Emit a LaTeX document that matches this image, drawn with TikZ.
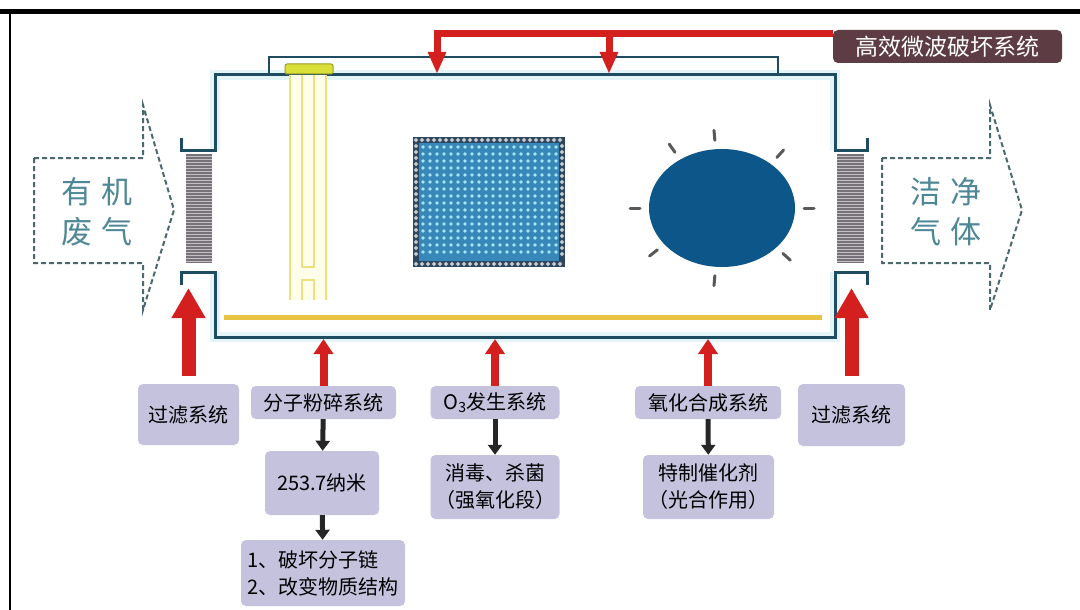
\documentclass[tikz,border=0pt]{standalone}
\usepackage{fontspec}
\setmainfont{Noto Sans CJK SC}
\usetikzlibrary{arrows.meta,calc}

\definecolor{wall}{HTML}{1E4D62}
\definecolor{glow}{HTML}{E4F5F9}
\definecolor{pipered}{HTML}{D3201F}
\definecolor{lav}{HTML}{C5C2DE}
\definecolor{labelbg}{HTML}{5E3C44}
\definecolor{lampy}{HTML}{EEE07A}
\definecolor{capy}{HTML}{D9E03A}
\definecolor{flowtxt}{HTML}{4E8795}
\definecolor{flowln}{HTML}{4D6770}
\definecolor{sunblue}{HTML}{0C5689}
\definecolor{gridbg}{HTML}{3787B8}
\definecolor{griddot}{HTML}{A6E6FA}
\definecolor{gridedge}{HTML}{2B4660}
\definecolor{coil}{HTML}{77727A}
\definecolor{barY}{HTML}{E9C443}

\tikzset{
  sysbox/.style={fill=lav, rounded corners=5pt, inner sep=2pt, align=center, text=black,
    font=\fontsize{20}{27}\selectfont},
  feedL/.style={pipered, line width=14pt, -{Triangle[width=32pt,length=30pt]}},
  feedS/.style={pipered, line width=8pt, -{Triangle[width=19pt,length=15pt]}},
  feedT/.style={pipered, line width=7pt, line join=miter, -{Triangle[width=17pt,length=22pt]}},
  nextstep/.style={black!85, line width=5pt, -{Triangle[width=14pt,length=10pt]}},
  flow/.style={flowln, line width=2pt, dash pattern=on 5pt off 3pt},
  flowtext/.style={flowtxt, font=\fontsize{31}{40}\selectfont, align=center},
  ray/.style={black!65, line width=3pt, line cap=round},
}

\begin{document}
\begin{tikzpicture}[x=1pt,y=-1pt]
\useasboundingbox (0,0) rectangle (1080,610);
\fill[white] (0,0) rectangle (1080,610);

% frame
\draw[line width=5pt] (0,11.5) -- (1080,11.5);
\draw[line width=2pt] (9.5,11.5) -- (9.5,610);

% in / out flow
\draw[flow] (34,158) -- (143,158) -- (143,105) -- (174,210) -- (143,310) -- (143,263) -- (34,263) -- cycle;
\node[flowtext] (inlet) at (97,212) {有\hspace{9pt}机\\废\hspace{9pt}气};
\draw[flow] (882,158) -- (990,158) -- (990,105) -- (1022,210) -- (990,310) -- (990,263) -- (882,263) -- cycle;
\node[flowtext] (outlet) at (946,212) {洁\hspace{9pt}净\\气\hspace{9pt}体};

% chamber
\draw[glow, line width=10pt] (215,150) -- (215,75) -- (835,75) -- (835,150);
\draw[glow, line width=10pt] (215,272) -- (215,337) -- (835,337) -- (835,272);
\draw[wall, line width=3pt] (181,138) -- (181,150) -- (215,150) -- (215,75) -- (835,75)
  -- (835,150) -- (867,150) -- (867,138);
\draw[wall, line width=3pt] (181,285) -- (181,272) -- (215,272) -- (215,337) -- (835,337)
  -- (835,272) -- (867,272) -- (867,285);
\draw[wall, line width=2pt] (269,75) -- (269,57) -- (778,57) -- (778,75);

% filters
\foreach \xa/\xb in {186/212,837/864}{
  \fill[coil] (\xa,154) rectangle (\xb,263);
  \foreach \y in {156,159,...,262}
    \draw[white!55!coil, line width=0.7pt] (\xa,\y) -- (\xb,\y);
}

% lamp
\fill[yellow!8] (290,75) rectangle (326,300);
\draw[lampy, line width=2pt] (290,75) -- (290,300) (326,75) -- (326,300)
  (302,75) -- (302,267) -- (314,267) -- (314,75)
  (302,300) -- (302,280) -- (314,280) -- (314,300);
\draw[capy!70!black, fill=capy, rounded corners=2pt, line width=1pt] (285,64) rectangle (333,74);
\draw[barY, line width=5pt] (224,317) -- (822,317);

% grid panel
\fill[gridedge] (413,137) rectangle (565,267);
\fill[gridbg] (419,143) rectangle (559,261);
\foreach \x in {423,430,...,556}
  \foreach \y in {147,154,...,258}
    \fill[griddot] (\x,\y) circle (1.8pt);
\foreach \x in {416,422,...,562}{
  \draw[gridedge, fill=black!20, line width=0.6pt] (\x,140) circle (2.3pt);
  \draw[gridedge, fill=black!20, line width=0.6pt] (\x,264) circle (2.3pt);
}
\foreach \y in {146,152,...,258}{
  \draw[gridedge, fill=black!20, line width=0.6pt] (416,\y) circle (2.3pt);
  \draw[gridedge, fill=black!20, line width=0.6pt] (562,\y) circle (2.3pt);
}

% catalyst
\coordinate (sun) at (722,208);
\fill[sunblue] (sun) ellipse [x radius=73pt, y radius=59pt];
\foreach \a in {0,48,95,125,180,218,265,318}
  \draw[ray] ($(sun)+(\a:82pt and 68pt)$) -- ($(sun)+(\a:92pt and 78pt)$);

% microwave feed
\node[fill=labelbg, rounded corners=5pt, text=white, minimum width=229pt, minimum height=33pt,
  font=\fontsize{23}{26}\selectfont] (mw) at (947.5,46.5) {高效微波破坏系统};
\coordinate (p1) at (437,34);
\coordinate (p2) at (609,34);
\coordinate (ctop) at (0,74);
\draw[feedT] (mw.west |- p1) -- (p1) -- (p1 |- ctop);
\draw[feedT] (p2) -- (p2 |- ctop);

% systems
\node[sysbox, minimum width=101pt, minimum height=61pt] (filtL) at (188.5,414.5) {过滤系统};
\node[sysbox, minimum width=145pt, minimum height=33pt] (crush) at (323.5,402.5) {分子粉碎系统};
\node[sysbox, minimum width=114pt, minimum height=64pt] (nm) at (322,483) {253.7纳米};
\node[sysbox, minimum width=164pt, minimum height=66pt, align=left] (chain) at (323,573) {1、破坏分子链\\2、改变物质结构};
\node[sysbox, minimum width=129pt, minimum height=33pt] (ozone) at (495,402.5) {O\textsubscript{3}发生系统};
\node[sysbox, minimum width=129pt, minimum height=64pt] (steril) at (495,487) {消毒、杀菌\\（强氧化段）};
\node[sysbox, minimum width=146pt, minimum height=33pt] (oxid) at (708,402.5) {氧化合成系统};
\node[sysbox, minimum width=131pt, minimum height=64pt] (catal) at (708.5,487) {特制催化剂\\（光合作用）};
\node[sysbox, minimum width=107pt, minimum height=62pt] (filtR) at (851.5,415) {过滤系统};

\coordinate (cbot) at (0,339);
\coordinate (brk) at (0,288);
\draw[feedL, shorten <=8pt] (filtL.north) -- (filtL.north |- brk);
\draw[feedL, shorten <=8pt] (filtR.north) -- (filtR.north |- brk);
\draw[feedS] (crush.north) -- (crush.north |- cbot);
\draw[feedS] (ozone.north) -- (ozone.north |- cbot);
\draw[feedS] (oxid.north) -- (oxid.north |- cbot);

\draw[nextstep] (crush) -- (nm);
\draw[nextstep] (nm) -- (chain);
\draw[nextstep] (ozone) -- (steril);
\draw[nextstep] (oxid) -- (catal);
\end{tikzpicture}
\end{document}
